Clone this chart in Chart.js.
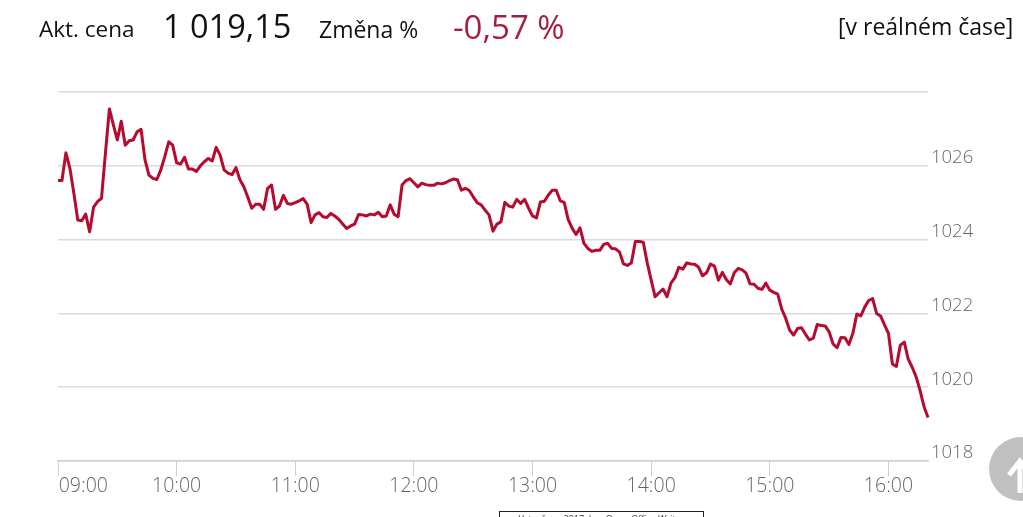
<!DOCTYPE html>
<html>
<head>
<meta charset="utf-8">
<script src="https://cdn.jsdelivr.net/npm/chart.js@4"></script>
<style>
  html, body { margin: 0; padding: 0; background: #fff; overflow: hidden; }
  body { width: 1023px; height: 517px; position: relative; font-family: "Open Sans", sans-serif; color: #111; }
  #priceChart { position: absolute; left: 0; top: 0; }
  .txt { position: absolute; white-space: nowrap; line-height: 1; }
  #scrollTop { position: absolute; left: 989px; top: 437px; width: 64px; height: 64px; border-radius: 50%; background: #c0c0c0; }
  #scrollTop svg { position: absolute; left: 0; top: 0; }
  #copyBox { position: absolute; left: 499px; top: 511px; width: 205px; height: 20px; border: 1px solid #222; box-sizing: border-box; font-size: 9px; color: #333; text-align: center; line-height: 12px; padding-top: 1px; }
</style>
</head>
<body>
<canvas id="priceChart" width="1023" height="517"></canvas>
<div class="txt" style="left:39px;top:18px;font-size:22.5px">Akt. cena</div>
<div class="txt" style="left:163px;top:10px;font-size:32.5px">1 019,15</div>
<div class="txt" style="left:319px;top:18px;font-size:23px">Změna %</div>
<div class="txt" style="left:453px;top:10px;font-size:33px;color:#a3213f">-0,57 %</div>
<div class="txt" style="left:838px;top:15px;font-size:23px">[v reálném čase]</div>
<div id="scrollTop">
  <svg width="64" height="64"><path d="M20 38 L31 24 L42 38 M31 24 L31 56" fill="none" stroke="#fff" stroke-width="5"/></svg>
</div>
<div id="copyBox">Vytvořeno 2017, Inc. Open Office Writer</div>
<script>
// two minute samples from 09:00 to 16:20
const startHour = 9;
const stepMinutes = 2;
const hourTicks = ['09:00', '10:00', '11:00', '12:00', '13:00', '14:00', '15:00', '16:00'];
const priceTicks = [1018, 1020, 1022, 1024, 1026];
const prices = [
  1025.60, 1025.60, 1026.35, 1025.94, 1025.26, 1024.53, 1024.51, 1024.69, 1024.21, 1024.88,
  1025.03, 1025.12, 1026.35, 1027.54, 1027.11, 1026.70, 1027.21, 1026.56, 1026.68, 1026.70,
  1026.92, 1026.99, 1026.16, 1025.75, 1025.66, 1025.63, 1025.89, 1026.25, 1026.65, 1026.56,
  1026.08, 1026.05, 1026.23, 1025.91, 1025.91, 1025.85, 1026.00, 1026.11, 1026.20, 1026.13,
  1026.50, 1026.29, 1025.89, 1025.80, 1025.76, 1025.95, 1025.62, 1025.43, 1025.15, 1024.85,
  1024.96, 1024.96, 1024.82, 1025.39, 1025.48, 1024.82, 1024.91, 1025.20, 1024.98, 1024.96,
  1025.00, 1025.05, 1025.11, 1024.96, 1024.46, 1024.67, 1024.73, 1024.62, 1024.60, 1024.71,
  1024.64, 1024.55, 1024.42, 1024.30, 1024.37, 1024.42, 1024.68, 1024.67, 1024.64, 1024.69,
  1024.67, 1024.74, 1024.62, 1024.64, 1024.94, 1024.69, 1024.62, 1025.48, 1025.60, 1025.65,
  1025.54, 1025.43, 1025.53, 1025.49, 1025.47, 1025.47, 1025.53, 1025.51, 1025.54, 1025.60,
  1025.64, 1025.62, 1025.34, 1025.39, 1025.33, 1025.16, 1025.00, 1024.94, 1024.80, 1024.67,
  1024.23, 1024.42, 1024.48, 1025.01, 1024.91, 1024.88, 1025.09, 1024.98, 1025.09, 1024.85,
  1024.64, 1024.59, 1025.02, 1025.04, 1025.21, 1025.34, 1025.34, 1025.05, 1025.01, 1024.55,
  1024.31, 1024.14, 1024.32, 1023.90, 1023.76, 1023.68, 1023.71, 1023.71, 1023.87, 1023.90,
  1023.76, 1023.75, 1023.66, 1023.34, 1023.30, 1023.37, 1023.95, 1023.95, 1023.93, 1023.37,
  1022.90, 1022.45, 1022.56, 1022.66, 1022.45, 1022.82, 1022.97, 1023.25, 1023.20, 1023.37,
  1023.34, 1023.33, 1023.25, 1023.02, 1023.10, 1023.34, 1023.28, 1022.90, 1023.11, 1022.92,
  1022.80, 1023.10, 1023.22, 1023.18, 1023.09, 1022.80, 1022.79, 1022.68, 1022.65, 1022.82,
  1022.63, 1022.57, 1022.52, 1022.12, 1021.87, 1021.55, 1021.41, 1021.59, 1021.61, 1021.44,
  1021.28, 1021.33, 1021.70, 1021.67, 1021.66, 1021.50, 1021.17, 1021.07, 1021.35, 1021.34,
  1021.16, 1021.46, 1021.98, 1021.93, 1022.17, 1022.35, 1022.40, 1022.00, 1021.93, 1021.69,
  1021.46, 1020.63, 1020.56, 1021.14, 1021.22, 1020.76, 1020.54, 1020.28, 1019.91, 1019.47,
  1019.18
];

const points = prices.map((p, i) => ({ x: i * stepMinutes, y: p }));

new Chart(document.getElementById('priceChart'), {
  type: 'line',
  data: {
    datasets: [{
      data: points,
      borderColor: '#b60a2e',
      borderWidth: 3,
      pointRadius: 0,
      tension: 0,
      borderJoinStyle: 'round',
      clip: false,
    }],
  },
  options: {
    responsive: false,
    animation: false,
    layout: { padding: { left: 58, top: 92, right: 0, bottom: 0 } },
    plugins: { legend: { display: false }, tooltip: { enabled: false } },
    scales: {
      x: {
        type: 'linear',
        min: 0,
        max: (prices.length - 1) * stepMinutes,
        afterBuildTicks: (axis) => { axis.ticks = hourTicks.map((h, i) => ({ value: i * 60 })); },
        afterFit: (axis) => { axis.height = 56; },
        border: { color: '#c5d2d8', width: 1.5 },
        grid: { drawOnChartArea: false, drawTicks: true, tickLength: 15, tickColor: '#c5d2d8' },
        ticks: {
          autoSkip: false,
          maxRotation: 0,
          padding: -1,
          color: '#666',
          font: { family: '"Open Sans", sans-serif', size: 19.5, weight: '300' },
          // first label sits right of its tick, not centred
          callback: (v) => {
            const label = hourTicks[v / 60];
            return v === 0 ? '          ' + label : label;
          },
        },
      },
      y: {
        position: 'right',
        min: 1018,
        max: 1028,
        afterBuildTicks: (axis) => { axis.ticks = priceTicks.concat(1028).map((v) => ({ value: v })); },
        afterFit: (axis) => { axis.width = 95; },
        border: { display: false },
        grid: { color: '#d9dcdc', lineWidth: 1.5, drawTicks: false },
        ticks: {
          padding: 3,
          color: '#666',
          font: { family: '"Open Sans", sans-serif', size: 18.5, weight: '300', lineHeight: 0.85 },
          // blank second line lifts the label above its grid line
          callback: (v) => (priceTicks.includes(v) ? [String(v), ' '] : ''),
        },
      },
    },
  },
});
</script>
</body>
</html>
